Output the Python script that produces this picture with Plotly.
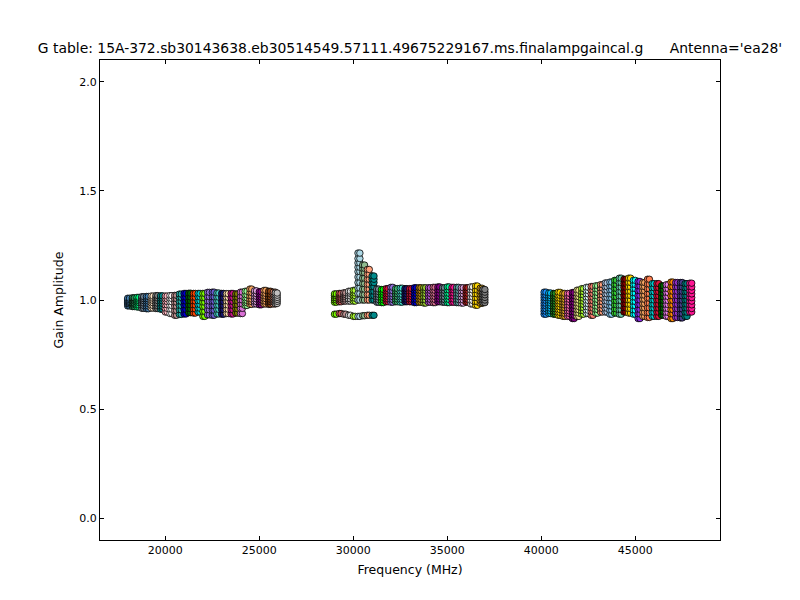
import plotly.graph_objects as go

TITLE = "G table: 15A-372.sb30143638.eb30514549.57111.49675229167.ms.finalampgaincal.g\u00a0\u00a0\u00a0\u00a0\u00a0\u00a0Antenna='ea28'"
X_LABEL = "Frequency (MHz)"
Y_LABEL = "Gain Amplitude"

# Each spectral window has channels at these offsets (MHz) from its start
channel_offsets = [0, 100]

band1_freq = [18000,18250,18500,18750,19000,19250,19500,19750,20000,20250,20500,20750,21000,21250,21500,21750,
              22000,22250,22500,22750,23000,23250,23500,23750,24000,24250,24500,24750,25000,25250,25500,25750,25850]
band1_amps = [
 [.973,.982,.988,.994,1.001,1.008],[.970,.980,.986,.995,1.003,1.010],[.968,.977,.988,.996,1.004,1.012],[.962,.975,.986,.997,1.006,1.015],
 [.960,.972,.984,.995,1.005,1.016],[.963,.975,.987,.998,1.008,1.018],[.961,.973,.985,.997,1.009,1.020],[.958,.971,.984,.996,1.008,1.019],
 [.945,.962,.978,.993,1.006,1.018],[.938,.958,.975,.992,1.007,1.020],[.930,.952,.972,.990,1.006,1.021],[.934,.955,.975,.994,1.012,1.027],
 [.936,.957,.977,.995,1.013,1.030],[.942,.960,.978,.996,1.014,1.031],[.940,.959,.977,.995,1.012,1.030],[.945,.962,.979,.996,1.014,1.030],
 [.925,.948,.970,.990,1.010,1.030],[.932,.955,.975,.995,1.015,1.035],[.930,.953,.974,.994,1.014,1.036],[.936,.957,.976,.995,1.013,1.032],
 [.935,.956,.975,.993,1.011,1.030],[.938,.958,.977,.995,1.012,1.029],[.936,.955,.975,.993,1.011,1.030],[.940,.960,.978,.996,1.013,1.028],
 [.938,.962,.982,1.000,1.018,1.036],[.975,.987,.998,1.010,1.024,1.040],[.980,.992,1.004,1.018,1.034,1.050],[.982,.993,1.005,1.017,1.029,1.042],
 [.978,.990,1.002,1.014,1.026,1.038],[.982,.994,1.006,1.018,1.030,1.044],[.980,.992,1.003,1.014,1.027,1.040],[.982,.992,1.002,1.013,1.025,1.036],[.984,.994,1.003,1.012,1.022,1.032]]
band1_colors = ["#4682b4","#2e8b57","#00ff7f","#708090","#4682b4","#ffe4c4","#808080","#008b8b",
                "#ffb6c1","#ffffff","#bc8f8f","#20b2aa","#0000cd","#006400","#ff4500","#00ced1",
                "#7cfc00","#9370db","#6a5acd","#48d1cc","#191970","#ffdead","#c71585","#808000",
                "#da70d6","#98fb98","#f4a460","#dda0dd","#8b008b","#f4a460","#8b4513","#e9967a","#c0c0c0"]

band2_freq = [29000,29250,29500,29750,30000,30250,30500,30750,31000,31250,31500,31750,32000,32250,32500,32750,
              33000,33250,33500,33750,34000,34250,34500,34750,35000,35250,35500,35750,36000,36250,36500,36750,36900]
band2_amps = [
 [.935,.990,1.000,1.010,1.020,1.028],[.938,.992,1.002,1.012,1.022,1.030],[.935,.995,1.004,1.014,1.024,1.033],[.930,.995,1.005,1.018,1.030,1.040],
 [.925,.995,1.008,1.020,1.032,1.044],[.925,1.000,1.030,1.055,1.080,1.105,1.130,1.150,1.170,1.190,1.215],[.928,1.000,1.025,1.050,1.075,1.100,1.125,1.145,1.160],[.930,1.000,1.025,1.050,1.072,1.095,1.118,1.140],
 [.930,1.000,1.020,1.040,1.060,1.080,1.095,1.110],[.990,1.002,1.014,1.026,1.038,1.050],[.988,1.000,1.012,1.024,1.036,1.048],[.992,1.004,1.016,1.028,1.040,1.052],
 [.990,1.002,1.015,1.028,1.042,1.058],[.992,1.004,1.016,1.028,1.040,1.052],[.990,1.002,1.014,1.026,1.040,1.054],[.992,1.003,1.015,1.028,1.041,1.052],
 [.992,1.004,1.016,1.028,1.040,1.052],[.988,1.002,1.016,1.030,1.044,1.056],[.990,1.003,1.016,1.030,1.043,1.056],[.986,1.000,1.015,1.030,1.044,1.056],
 [.990,1.003,1.016,1.030,1.044,1.056],[.988,1.002,1.016,1.030,1.044,1.058],[.992,1.004,1.017,1.031,1.046,1.060],[.990,1.002,1.015,1.030,1.044,1.056],
 [.988,1.002,1.016,1.030,1.046,1.060],[.990,1.004,1.018,1.032,1.046,1.058],[.988,1.002,1.016,1.030,1.044,1.058],[.986,1.000,1.014,1.028,1.042,1.056],
 [.990,1.003,1.016,1.030,1.044,1.056],[.982,.998,1.014,1.030,1.046,1.060],[.976,.992,1.010,1.028,1.046,1.064],[.985,.998,1.012,1.026,1.040,1.054],[.988,1.000,1.012,1.024,1.036,1.048]]
band2_colors = ["#7cfc00","#cd5c5c","#bc8f8f","#dcdcdc","#adff2f","#add8e6","#8fbc8f","#ffa07a",
                "#008b8b","#778899","#00ff00","#dc143c","#9370db","#3cb371","#40e0d0","#191970",
                "#dc143c","#0000cd","#b8860b","#9acd32","#ba55d3","#db7093","#8b008b","#708090",
                "#00fa9a","#ff1493","#5f9ea0","#dda0dd","#b22222","#f5f5f5","#ffd700","#daa520","#808080"]

band3_freq = [40150,40400,40650,40900,41150,41400,41650,41900,42150,42400,42650,42900,43150,43400,43650,43900,
              44150,44400,44650,44900,45150,45400,45650,45900,46150,46400,46650,46900,47150,47400,47650,47900]
band3_amps = [
 [.935,.948,.960,.973,.985,.998,1.010,1.023,1.036],[.938,.950,.962,.974,.986,.998,1.009,1.020,1.032],[.935,.947,.959,.971,.983,.995,1.007,1.018,1.030],[.930,.943,.956,.969,.982,.995,1.008,1.021,1.035],
 [.925,.938,.951,.964,.977,.990,1.003,1.016,1.030],[.925,.938,.950,.963,.976,.990,1.003,1.016,1.030],[.915,.930,.945,.960,.975,.990,1.005,1.020,1.034],[.925,.940,.955,.970,.985,1.000,1.015,1.030,1.045],
 [.935,.950,.964,.979,.994,1.008,1.023,1.038,1.052],[.938,.953,.968,.983,.998,1.013,1.028,1.043,1.058],[.930,.947,.963,.980,.996,1.013,1.029,1.046,1.062],[.940,.956,.971,.987,1.002,1.018,1.034,1.050,1.065],
 [.945,.961,.976,.992,1.008,1.023,1.039,1.055,1.070],[.945,.962,.979,.995,1.012,1.028,1.045,1.061,1.078],[.935,.953,.972,.990,1.009,1.027,1.046,1.064,1.082],[.940,.959,.978,.997,1.015,1.034,1.053,1.071,1.090],
 [.935,.956,.976,.997,1.018,1.039,1.059,1.080,1.100],[.945,.964,.983,1.002,1.020,1.039,1.058,1.076,1.095],[.940,.960,.980,1.000,1.020,1.040,1.060,1.080,1.100],[.935,.954,.974,.993,1.013,1.032,1.052,1.071,1.090],
 [.915,.936,.957,.979,1.000,1.021,1.043,1.064,1.085],[.925,.944,.964,.983,1.003,1.022,1.042,1.061,1.080],[.920,.942,.964,.986,1.008,1.029,1.051,1.073,1.095],[.925,.944,.963,.981,1.000,1.019,1.038,1.056,1.075],
 [.925,.944,.963,.981,1.000,1.019,1.038,1.056,1.075],[.930,.947,.964,.981,.998,1.014,1.031,1.048,1.065],[.925,.943,.961,.979,.998,1.016,1.034,1.052,1.070],[.915,.936,.956,.977,.998,1.019,1.040,1.061,1.082],
 [.920,.940,.960,.980,1.000,1.020,1.040,1.060,1.080],[.918,.938,.959,.979,.999,1.019,1.040,1.060,1.080],[.925,.944,.963,.981,1.000,1.019,1.038,1.056,1.075],[.945,.961,.978,.995,1.011,1.028,1.044,1.060,1.077]]
band3_colors = ["#1e90ff","#00bfff","#228b22","#ffd700","#daa520","#ff69b4","#800080","#f0e68c",
                "#adff2f","#e0ffff","#fa8072","#98fb98","#ffa07a","#b0c4de","#87cefa","#32cd32",
                "#66cdaa","#8b0000","#ffd700","#00ffff","#8a2be2","#f4a460","#ff7f50","#00ced1",
                "#dc143c","#006400","#ee82ee","#ff8c00","#9932cc","#483d8b","#008080","#ff1493"]

fig = go.Figure()
for freqs, amps, colors in [(band1_freq, band1_amps, band1_colors),
                            (band2_freq, band2_amps, band2_colors),
                            (band3_freq, band3_amps, band3_colors)]:
    for f, a, c in zip(freqs, amps, colors):
        xs = [f + off for off in channel_offsets for _ in a]
        ys = [v for _ in channel_offsets for v in a]
        fig.add_trace(go.Scatter(x=xs, y=ys, mode="markers", showlegend=False,
                                 marker=dict(size=6.5, color=c, line=dict(color="black", width=0.8))))

axis = dict(showgrid=False, zeroline=False, showline=True, mirror="allticks", linecolor="black", linewidth=1.3,
            ticks="inside", ticklen=4, tickwidth=0.8, tickcolor="black",
            tickfont=dict(family="DejaVu Sans", size=11, color="black"))
fig.update_layout(
    width=800, height=600, autosize=False, paper_bgcolor="white", plot_bgcolor="white",
    margin=dict(l=92, r=88, t=52, b=68),
    font=dict(family="DejaVu Sans", color="black"),
    title=dict(text=TITLE, x=0.5025, xanchor="center", y=0.925, yanchor="bottom",
               font=dict(family="DejaVu Sans", size=13.9)),
    xaxis=dict(axis, range=[16527, 49505], dtick=5000, tick0=0, tickformat="d",
               title=dict(text=X_LABEL, font=dict(size=12.5), standoff=8)),
    yaxis=dict(axis, range=[-0.1, 2.1], dtick=0.5, tick0=0, tickformat=".1f",
               title=dict(text=Y_LABEL, font=dict(size=12.5), standoff=12)),
)
fig.write_html("out.html")
